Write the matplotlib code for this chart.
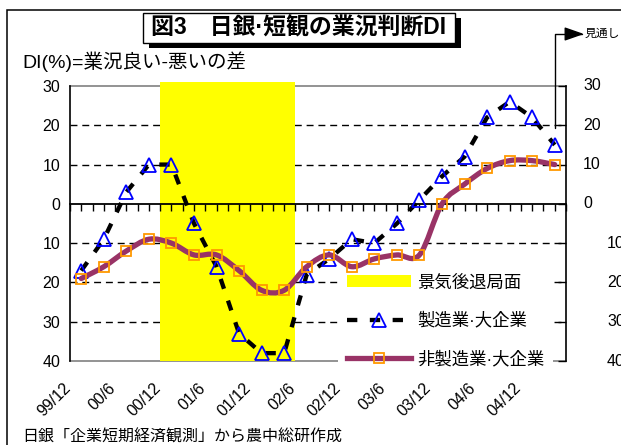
import numpy as np
import matplotlib
matplotlib.use('Agg')
import matplotlib.pyplot as plt
import matplotlib.transforms as mtransforms
from matplotlib.path import Path
from matplotlib.patches import PathPatch, Patch, Rectangle
from matplotlib.lines import Line2D

plt.rcParams['font.family'] = ['Liberation Sans', 'Noto Sans CJK JP']

# quarterly data (BOJ Tankan, large enterprises), last point = forecast
quarters = ['99/12', '00/3', '00/6', '00/9', '00/12', '01/3', '01/6', '01/9',
            '01/12', '02/3', '02/6', '02/9', '02/12', '03/3', '03/6', '03/9',
            '03/12', '04/3', '04/6', '04/9', '04/12', '05/3']
mfg = [-17, -9, 3, 10, 10, -5, -16, -33, -38, -38, -18, -14, -9, -10, -5,
       1, 7, 12, 22, 26, 22, 15]
nonmfg = [-19, -16, -12, -9, -10, -13, -13, -17, -22, -22, -16, -13, -16,
          -14, -13, -13, 0, 5, 9, 11, 11, 10]
recession_start, recession_end = '00/12', '02/3'
yticks = [30, 20, 10, 0, -10, -20, -30, -40]

labels = ['景気後退局面', '製造業·大企業', '非製造業·大企業']
title = '図3\u3000日銀·短観の業況判断DI'
ylab = 'DI(%)=業況良い-悪いの差'
source = '日銀「企業短期経済観測」から農中総研作成'

W, H = 621, 445
fig = plt.figure(figsize=(W / 100, H / 100), dpi=100)


def box(x0, y0, x1, y1):
    return [x0 / W, 1 - y1 / H, (x1 - x0) / W, (y1 - y0) / H]


ax = fig.add_axes(box(70, 86, 566, 361))
x = np.arange(len(quarters))
ax.set_xlim(-0.5, len(quarters) - 0.5)
ax.set_ylim(-40, 30)

# recession shading as gapless columns
i0, i1 = quarters.index(recession_start), quarters.index(recession_end)
ax.bar(x[i0:i1 + 1], 71, bottom=-40, width=1.0, color='#FFFF00',
       zorder=1, clip_on=False)

for v in [20, 10, -10, -20, -30]:
    ax.axhline(v, color='black', lw=1, ls=(0, (5, 3.5)), zorder=0.5)
for v in [30, -40]:
    ax.axhline(v, color='#808080', lw=1.2, zorder=0.5, clip_on=False)

for s in ['top', 'bottom']:
    ax.spines[s].set_visible(False)
ax.spines['left'].set_linewidth(1.2)
ax.spines['right'].set_linewidth(1.2)

# zero line with quarter / half-quarter ticks
sec = ax.secondary_xaxis(40 / 70)
sec.set_xticks(np.arange(-0.5, len(quarters), 0.5))
sec.tick_params(direction='in', length=5, width=1, labeltop=False,
                labelbottom=False)
for sp in sec.spines.values():
    sp.set_linewidth(1.3)
sec.set_zorder(2)

# manufacturing
ax.plot(x, mfg, color='black', lw=3.1, ls=(0, (2.4, 2.9)), marker='^',
        mfc='none', mec='#0000FF', ms=10.5, mew=1.3, zorder=3)


# non-manufacturing: smoothed line like Excel
def smooth_path(xs, ys):
    pts = np.column_stack([xs, ys]).astype(float)
    ext = np.vstack([pts[0], pts, pts[-1]])
    verts = [pts[0]]
    codes = [Path.MOVETO]
    for i in range(len(pts) - 1):
        p0, p1, p2, p3 = ext[i], ext[i + 1], ext[i + 2], ext[i + 3]
        verts += [p1 + (p2 - p0) / 6, p2 - (p3 - p1) / 6, p2]
        codes += [Path.CURVE4] * 3
    return Path(verts, codes)


ax.add_patch(PathPatch(smooth_path(x, nonmfg), facecolor='none',
                       edgecolor='#993366', lw=3.8, capstyle='round',
                       joinstyle='round', zorder=4))
ax.plot(x, nonmfg, ls='none', marker='s', mfc='none', mec='#FF9900',
        ms=7, mew=1.3, zorder=4.1)

# axes ticks / labels
ax.set_yticks(yticks)
ax.set_yticklabels([str(abs(v)) for v in yticks])
ax.tick_params(axis='y', left=False, right=True, direction='in', length=6,
               width=1, pad=7, labelsize=11.5)
ax.set_xticks(x[::2])
ax.set_xticklabels(quarters[::2], rotation=45, ha='right', va='top')
ax.tick_params(axis='x', length=0, pad=14, labelsize=11.5)
off = mtransforms.ScaledTranslation(-8 / 100, 0, fig.dpi_scale_trans)
for lab in ax.get_xticklabels():
    lab.set_transform(lab.get_transform() + off)

# right-hand labels
tr = mtransforms.blended_transform_factory(fig.transFigure, ax.transData)
for v in yticks:
    xr = 583 if v >= 0 else 607
    ax.text(xr / W, v, str(abs(v)), transform=tr, ha='left', va='center',
            fontsize=11.5, clip_on=False)

# legend
handles = [Patch(facecolor='#FFFF00', edgecolor='none'),
           Line2D([], [], color='black', lw=3.1, ls=(0, (2.4, 2.9)),
                  marker='^', mfc='none', mec='#0000FF', ms=10.5, mew=1.3),
           Line2D([], [], color='#993366', lw=3.8, marker='s', mfc='none',
                  mec='#FF9900', ms=7, mew=1.3)]
leg = ax.legend(handles, labels, loc='lower left',
                bbox_to_anchor=((338 - 70) / 496, -15 / 275), borderaxespad=0,
                frameon=True, fancybox=False, edgecolor='none',
                facecolor='white', framealpha=1, fontsize=12.5,
                handlelength=3.7, handletextpad=0.35, labelspacing=1.25,
                borderpad=0.5)
leg.set_zorder(1.4)

# outer frame, title box, notes
fig.patches.append(Rectangle((7 / W, -0.1), 1.2, 1 - 10 / H + 0.1,
                             transform=fig.transFigure, fill=False,
                             edgecolor='black', lw=1.1))
fig.patches.append(Rectangle((149 / W, 1 - 48 / H), 312 / W, 30 / H,
                             transform=fig.transFigure, facecolor='black',
                             edgecolor='none'))
fig.patches.append(Rectangle((143 / W, 1 - 43 / H), 312 / W, 30 / H,
                             transform=fig.transFigure, facecolor='white',
                             edgecolor='black', lw=1))
fig.text(299 / W, 1 - 28 / H, title, ha='center', va='center',
         fontsize=16.5, fontweight='bold')
fig.text(22 / W, 1 - 62 / H, ylab, ha='left', va='center', fontsize=14)
fig.text(22 / W, 1 - 437 / H, source, ha='left', va='center', fontsize=11.5)

ax.annotate('', xy=(584, H - 34), xycoords='figure pixels',
            xytext=(555, H - 128), textcoords='figure pixels',
            arrowprops=dict(arrowstyle='-|>,head_length=1.0,head_width=0.35',
                            connectionstyle='angle,angleA=90,angleB=0,rad=0',
                            mutation_scale=12, color='black', lw=1,
                            shrinkA=0, shrinkB=0))
fig.text(585 / W, 1 - 34 / H, '見通し', ha='left', va='center', fontsize=8.5)

fig.savefig('out.png', dpi=100)
